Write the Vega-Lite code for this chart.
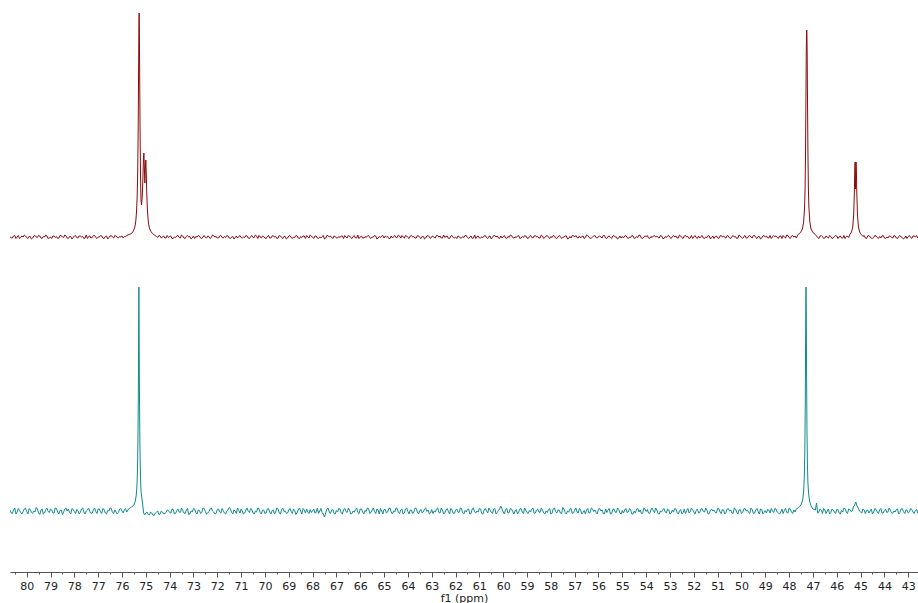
{
  "$schema": "https://vega.github.io/schema/vega-lite/v6.json",
  "padding": {"left": 10, "top": 0, "right": 0, "bottom": 0},
  "spacing": 0,
  "config": {"view": {"stroke": null}, "font": "DejaVu Sans"},
  "datasets": {
    "red": [
      {"x":80.7,"y":0.5},{"x":80.6,"y":-1},{"x":80.5,"y":1.5},{"x":80.4,"y":0},{"x":80.3,"y":-1.5},{"x":80.2,"y":1},{"x":80.1,"y":2},{"x":80.0,"y":-0.5},
      {"x":79.9,"y":0.5},{"x":79.8,"y":-2},{"x":79.7,"y":1},{"x":79.6,"y":0},{"x":79.5,"y":1.5},{"x":79.4,"y":-1},{"x":79.3,"y":0.5},{"x":79.2,"y":2},{"x":79.1,"y":-1.5},{"x":79.0,"y":0},
      {"x":78.9,"y":1},{"x":78.8,"y":-0.5},{"x":78.7,"y":-1.5},{"x":78.6,"y":1.5},{"x":78.5,"y":0},{"x":78.4,"y":2},{"x":78.3,"y":-1},{"x":78.2,"y":0.5},{"x":78.1,"y":-2},{"x":78.0,"y":1},
      {"x":77.9,"y":-0.5},{"x":77.8,"y":1},{"x":77.7,"y":0},{"x":77.6,"y":-1.5},{"x":77.5,"y":2},{"x":77.4,"y":0.5},{"x":77.3,"y":-1},{"x":77.2,"y":1.5},{"x":77.1,"y":-0.5},{"x":77.0,"y":0},
      {"x":76.9,"y":1.5},{"x":76.8,"y":-1},{"x":76.7,"y":0.5},{"x":76.6,"y":-2},{"x":76.5,"y":1},{"x":76.4,"y":0},{"x":76.3,"y":1.5},{"x":76.2,"y":-0.5},{"x":76.1,"y":0.5},{"x":76.0,"y":1},
      {"x":75.9,"y":0.5},{"x":75.8,"y":1.5},
      {"x":75.7,"y":2.5},{"x":75.6,"y":3.5},{"x":75.52,"y":6},{"x":75.46,"y":10},{"x":75.42,"y":16},{"x":75.39,"y":25},{"x":75.36,"y":42},{"x":75.34,"y":65},{"x":75.32,"y":108},{"x":75.30,"y":175},{"x":75.29,"y":210},{"x":75.28,"y":224},{"x":75.27,"y":208},{"x":75.26,"y":170},{"x":75.24,"y":105},{"x":75.22,"y":58},{"x":75.20,"y":36},{"x":75.18,"y":32},{"x":75.15,"y":40},{"x":75.12,"y":60},{"x":75.10,"y":78},{"x":75.08,"y":84},{"x":75.06,"y":68},{"x":75.04,"y":54},{"x":75.02,"y":68},{"x":75.00,"y":77},{"x":74.98,"y":63},{"x":74.96,"y":44},{"x":74.93,"y":26},{"x":74.90,"y":16},{"x":74.86,"y":10},{"x":74.80,"y":6},{"x":74.72,"y":3.5},{"x":74.64,"y":2},
      {"x":74.5,"y":-0.5},{"x":74.4,"y":1},{"x":74.3,"y":0},{"x":74.2,"y":-1},{"x":74.1,"y":1.5},{"x":74.0,"y":0.5},
      {"x":73.9,"y":-1.5},{"x":73.8,"y":0},{"x":73.7,"y":1},{"x":73.6,"y":-0.5},{"x":73.5,"y":2},{"x":73.4,"y":-1},{"x":73.3,"y":0.5},{"x":73.2,"y":0},{"x":73.1,"y":-2},{"x":73.0,"y":1},
      {"x":72.9,"y":0.5},{"x":72.8,"y":1.5},{"x":72.7,"y":-1},{"x":72.6,"y":0},{"x":72.5,"y":-0.5},{"x":72.4,"y":1},{"x":72.3,"y":-1.5},{"x":72.2,"y":2},{"x":72.1,"y":0},{"x":72.0,"y":-1},
      {"x":71.9,"y":1},{"x":71.8,"y":-0.5},{"x":71.7,"y":0.5},{"x":71.6,"y":1.5},{"x":71.5,"y":-1},{"x":71.4,"y":0},{"x":71.3,"y":-2},{"x":71.2,"y":1},{"x":71.1,"y":0.5},{"x":71.0,"y":-0.5},
      {"x":70.9,"y":0},{"x":70.8,"y":1.5},{"x":70.7,"y":-1},{"x":70.6,"y":0.5},{"x":70.5,"y":-0.5},{"x":70.4,"y":2},{"x":70.3,"y":-1.5},{"x":70.2,"y":0},{"x":70.1,"y":1},{"x":70.0,"y":-1},
      {"x":69.9,"y":0.5},{"x":69.8,"y":-1},{"x":69.7,"y":1},{"x":69.6,"y":0},{"x":69.5,"y":-1.5},{"x":69.4,"y":1.5},{"x":69.3,"y":-0.5},{"x":69.2,"y":0.5},{"x":69.1,"y":-2},{"x":69.0,"y":1},
      {"x":68.9,"y":-0.5},{"x":68.8,"y":0},{"x":68.7,"y":1.5},{"x":68.6,"y":-1},{"x":68.5,"y":0.5},{"x":68.4,"y":1},{"x":68.3,"y":-1.5},{"x":68.2,"y":0},{"x":68.1,"y":2},{"x":68.0,"y":-0.5},
      {"x":67.9,"y":1},{"x":67.8,"y":-1},{"x":67.7,"y":0},{"x":67.6,"y":0.5},{"x":67.5,"y":-2},{"x":67.4,"y":1.5},{"x":67.3,"y":0},{"x":67.2,"y":-0.5},{"x":67.1,"y":1},{"x":67.0,"y":-1},
      {"x":66.9,"y":0.5},{"x":66.8,"y":1},{"x":66.7,"y":-1.5},{"x":66.6,"y":0},{"x":66.5,"y":1.5},{"x":66.4,"y":-0.5},{"x":66.3,"y":0.5},{"x":66.2,"y":-1},{"x":66.1,"y":2},{"x":66.0,"y":0},
      {"x":65.9,"y":-1},{"x":65.8,"y":0.5},{"x":65.7,"y":1},{"x":65.6,"y":-0.5},{"x":65.5,"y":0},{"x":65.4,"y":1.5},{"x":65.3,"y":-2},{"x":65.2,"y":0.5},{"x":65.1,"y":1},{"x":65.0,"y":-1},
      {"x":64.9,"y":0},{"x":64.8,"y":-1.5},{"x":64.7,"y":1},{"x":64.6,"y":0.5},{"x":64.5,"y":-0.5},{"x":64.4,"y":2},{"x":64.3,"y":-1},{"x":64.2,"y":0},{"x":64.1,"y":1.5},{"x":64.0,"y":-0.5},
      {"x":63.9,"y":1},{"x":63.8,"y":0},{"x":63.7,"y":-1},{"x":63.6,"y":1.5},{"x":63.5,"y":-0.5},{"x":63.4,"y":0.5},{"x":63.3,"y":-2},{"x":63.2,"y":1},{"x":63.1,"y":0},{"x":63.0,"y":0.5},
      {"x":62.9,"y":-0.5},{"x":62.8,"y":1.5},{"x":62.7,"y":0},{"x":62.6,"y":-1},{"x":62.5,"y":2},{"x":62.4,"y":0.5},{"x":62.3,"y":-1.5},{"x":62.2,"y":1},{"x":62.1,"y":-0.5},{"x":62.0,"y":0},
      {"x":61.9,"y":1},{"x":61.8,"y":-1},{"x":61.7,"y":0.5},{"x":61.6,"y":1.5},{"x":61.5,"y":-0.5},{"x":61.4,"y":0},{"x":61.3,"y":-1.5},{"x":61.2,"y":2},{"x":61.1,"y":0.5},{"x":61.0,"y":-1},
      {"x":60.9,"y":0},{"x":60.8,"y":1},{"x":60.7,"y":-0.5},{"x":60.6,"y":0.5},{"x":60.5,"y":-2},{"x":60.4,"y":1.5},{"x":60.3,"y":0},{"x":60.2,"y":-1},{"x":60.1,"y":1},{"x":60.0,"y":0.5},
      {"x":59.9,"y":-1},{"x":59.8,"y":0.5},{"x":59.7,"y":2},{"x":59.6,"y":-0.5},{"x":59.5,"y":0},{"x":59.4,"y":1},{"x":59.3,"y":-1.5},{"x":59.2,"y":0.5},{"x":59.1,"y":1.5},{"x":59.0,"y":-1},
      {"x":58.9,"y":0.5},{"x":58.8,"y":-0.5},{"x":58.7,"y":1},{"x":58.6,"y":0},{"x":58.5,"y":-1},{"x":58.4,"y":2},{"x":58.3,"y":-1.5},{"x":58.2,"y":1},{"x":58.1,"y":0},{"x":58.0,"y":0.5},
      {"x":57.9,"y":1.5},{"x":57.8,"y":-1},{"x":57.7,"y":0},{"x":57.6,"y":0.5},{"x":57.5,"y":-0.5},{"x":57.4,"y":1},{"x":57.3,"y":-2},{"x":57.2,"y":0.5},{"x":57.1,"y":1.5},{"x":57.0,"y":0},
      {"x":56.9,"y":-0.5},{"x":56.8,"y":1},{"x":56.7,"y":0.5},{"x":56.6,"y":-1.5},{"x":56.5,"y":2},{"x":56.4,"y":0},{"x":56.3,"y":-1},{"x":56.2,"y":1},{"x":56.1,"y":-0.5},{"x":56.0,"y":0.5},
      {"x":55.9,"y":0},{"x":55.8,"y":1.5},{"x":55.7,"y":-1},{"x":55.6,"y":0.5},{"x":55.5,"y":-0.5},{"x":55.4,"y":1},{"x":55.3,"y":0},{"x":55.2,"y":-2},{"x":55.1,"y":1},{"x":55.0,"y":0.5},
      {"x":54.9,"y":1},{"x":54.8,"y":-0.5},{"x":54.7,"y":0},{"x":54.6,"y":1.5},{"x":54.5,"y":-1.5},{"x":54.4,"y":0.5},{"x":54.3,"y":2},{"x":54.2,"y":-1},{"x":54.1,"y":0},{"x":54.0,"y":0.5},
      {"x":53.9,"y":-1},{"x":53.8,"y":0.5},{"x":53.7,"y":1},{"x":53.6,"y":0},{"x":53.5,"y":-0.5},{"x":53.4,"y":1.5},{"x":53.3,"y":-1.5},{"x":53.2,"y":0.5},{"x":53.1,"y":1},{"x":53.0,"y":-0.5},
      {"x":52.9,"y":0.5},{"x":52.8,"y":0},{"x":52.7,"y":-1},{"x":52.6,"y":2},{"x":52.5,"y":-0.5},{"x":52.4,"y":1},{"x":52.3,"y":0},{"x":52.2,"y":-1.5},{"x":52.1,"y":1.5},{"x":52.0,"y":0},
      {"x":51.9,"y":-0.5},{"x":51.8,"y":1},{"x":51.7,"y":0.5},{"x":51.6,"y":-1},{"x":51.5,"y":0},{"x":51.4,"y":1.5},{"x":51.3,"y":-2},{"x":51.2,"y":1},{"x":51.1,"y":0.5},{"x":51.0,"y":-1},
      {"x":50.9,"y":1},{"x":50.8,"y":0},{"x":50.7,"y":-0.5},{"x":50.6,"y":1.5},{"x":50.5,"y":-1},{"x":50.4,"y":0.5},{"x":50.3,"y":0},{"x":50.2,"y":-1.5},{"x":50.1,"y":2},{"x":50.0,"y":-0.5},
      {"x":49.9,"y":0.5},{"x":49.8,"y":-1},{"x":49.7,"y":1},{"x":49.6,"y":0},{"x":49.5,"y":1.5},{"x":49.4,"y":-0.5},{"x":49.3,"y":0.5},{"x":49.2,"y":-2},{"x":49.1,"y":1},{"x":49.0,"y":0},
      {"x":48.9,"y":-1},{"x":48.8,"y":1.5},{"x":48.7,"y":0},{"x":48.6,"y":0.5},{"x":48.5,"y":-0.5},{"x":48.4,"y":1},{"x":48.3,"y":-1.5},{"x":48.2,"y":0},{"x":48.1,"y":2},{"x":48.0,"y":-0.5},
      {"x":47.9,"y":1},{"x":47.8,"y":0},{"x":47.7,"y":-1},
      {"x":47.62,"y":2.5},{"x":47.52,"y":4.5},{"x":47.44,"y":8},{"x":47.39,"y":15},{"x":47.35,"y":30},{"x":47.33,"y":48},{"x":47.31,"y":85},{"x":47.29,"y":150},{"x":47.28,"y":185},{"x":47.27,"y":202},{"x":47.26,"y":207},{"x":47.25,"y":200},{"x":47.24,"y":180},{"x":47.23,"y":145},{"x":47.21,"y":85},{"x":47.19,"y":48},{"x":47.17,"y":30},{"x":47.13,"y":15},{"x":47.08,"y":8},{"x":47.0,"y":4.5},{"x":46.9,"y":2.5},
      {"x":46.8,"y":-0.5},{"x":46.7,"y":1},{"x":46.6,"y":0.5},{"x":46.5,"y":-1},{"x":46.4,"y":0},{"x":46.3,"y":1.5},{"x":46.2,"y":-1.5},{"x":46.1,"y":0.5},{"x":46.0,"y":1},
      {"x":45.9,"y":0},{"x":45.8,"y":-1},{"x":45.7,"y":1.5},{"x":45.6,"y":0.5},{"x":45.5,"y":-0.5},
      {"x":45.45,"y":2.5},{"x":45.38,"y":5},{"x":45.33,"y":10},{"x":45.29,"y":22},{"x":45.26,"y":45},{"x":45.245,"y":65},{"x":45.23,"y":75},{"x":45.22,"y":62},{"x":45.21,"y":48},{"x":45.20,"y":62},{"x":45.19,"y":75},{"x":45.175,"y":65},{"x":45.16,"y":45},{"x":45.13,"y":22},{"x":45.09,"y":10},{"x":45.04,"y":5},{"x":44.97,"y":2.5},
      {"x":44.9,"y":0.5},{"x":44.8,"y":-1},{"x":44.7,"y":1},{"x":44.6,"y":0},{"x":44.5,"y":-1.5},{"x":44.4,"y":1.5},{"x":44.3,"y":-0.5},{"x":44.2,"y":0.5},{"x":44.1,"y":1},{"x":44.0,"y":-1},
      {"x":43.9,"y":0},{"x":43.8,"y":1},{"x":43.7,"y":-0.5},{"x":43.6,"y":1.5},{"x":43.5,"y":-1},{"x":43.4,"y":0.5},{"x":43.3,"y":0},{"x":43.2,"y":-2},{"x":43.1,"y":1},{"x":43.0,"y":0.5},
      {"x":42.9,"y":-0.5},{"x":42.8,"y":1},{"x":42.7,"y":0},{"x":42.6,"y":-1},
      {"x":80.65,"y":-1},{"x":80.55,"y":1},{"x":80.45,"y":-1.5},{"x":80.35,"y":1.5},{"x":80.25,"y":-0.5},{"x":80.15,"y":0},{"x":80.05,"y":1},
      {"x":79.95,"y":-1.5},{"x":79.85,"y":0.5},{"x":79.75,"y":-1},{"x":79.65,"y":1.5},{"x":79.55,"y":-0.5},{"x":79.45,"y":1},{"x":79.35,"y":-1.5},{"x":79.25,"y":0},{"x":79.15,"y":1},{"x":79.05,"y":-1},
      {"x":78.95,"y":-1.5},{"x":78.85,"y":1},{"x":78.75,"y":0.5},{"x":78.65,"y":-1},{"x":78.55,"y":1.5},{"x":78.45,"y":-0.5},{"x":78.35,"y":1},{"x":78.25,"y":-1.5},{"x":78.15,"y":0.5},{"x":78.05,"y":-0.5},
      {"x":77.95,"y":1.5},{"x":77.85,"y":-1},{"x":77.75,"y":1},{"x":77.65,"y":0.5},{"x":77.55,"y":-1},{"x":77.45,"y":-1.5},{"x":77.35,"y":1},{"x":77.25,"y":-0.5},{"x":77.15,"y":1.5},{"x":77.05,"y":-1.5},
      {"x":76.95,"y":0},{"x":76.85,"y":1},{"x":76.75,"y":-1.5},{"x":76.65,"y":1},{"x":76.55,"y":-0.5},{"x":76.45,"y":1.5},{"x":76.35,"y":-1},{"x":76.25,"y":1},{"x":76.15,"y":-1},{"x":76.05,"y":0},
      {"x":75.95,"y":-1},{"x":75.85,"y":0.5},
      {"x":74.55,"y":0.5},{"x":74.45,"y":1.5},{"x":74.35,"y":-1},{"x":74.25,"y":1},{"x":74.15,"y":-1},{"x":74.05,"y":-0.5},
      {"x":73.95,"y":1},{"x":73.85,"y":-1.5},{"x":73.75,"y":-0.5},{"x":73.65,"y":1.5},{"x":73.55,"y":-1},{"x":73.45,"y":1},{"x":73.35,"y":-1.5},{"x":73.25,"y":1.5},{"x":73.15,"y":0.5},{"x":73.05,"y":-1},
      {"x":72.95,"y":-1.5},{"x":72.85,"y":0},{"x":72.75,"y":1},{"x":72.65,"y":-1.5},{"x":72.55,"y":1.5},{"x":72.45,"y":-1},{"x":72.35,"y":0.5},{"x":72.25,"y":-0.5},{"x":72.15,"y":1.5},{"x":72.05,"y":0.5},
      {"x":71.95,"y":-1},{"x":71.85,"y":1.5},{"x":71.75,"y":-1},{"x":71.65,"y":-0.5},{"x":71.55,"y":1},{"x":71.45,"y":-1.5},{"x":71.35,"y":0.5},{"x":71.25,"y":-0.5},{"x":71.15,"y":-1},{"x":71.05,"y":1.5},
      {"x":70.95,"y":-1},{"x":70.85,"y":-0.5},{"x":70.75,"y":1},{"x":70.65,"y":-1.5},{"x":70.55,"y":1.5},{"x":70.45,"y":-0.5},{"x":70.35,"y":1},{"x":70.25,"y":1.5},{"x":70.15,"y":-1},{"x":70.05,"y":0.5},
      {"x":69.95,"y":-1.5},{"x":69.85,"y":1.5},{"x":69.75,"y":-1},{"x":69.65,"y":1.5},{"x":69.55,"y":0.5},{"x":69.45,"y":-1},{"x":69.35,"y":1},{"x":69.25,"y":-1.5},{"x":69.15,"y":0.5},{"x":69.05,"y":-1},
      {"x":68.95,"y":1.5},{"x":68.85,"y":-1.5},{"x":68.75,"y":-0.5},{"x":68.65,"y":1},{"x":68.55,"y":-1.5},{"x":68.45,"y":-0.5},{"x":68.35,"y":1},{"x":68.25,"y":1.5},{"x":68.15,"y":-1},{"x":68.05,"y":1},
      {"x":67.95,"y":-1.5},{"x":67.85,"y":1},{"x":67.75,"y":-1.5},{"x":67.65,"y":-1},{"x":67.55,"y":1.5},{"x":67.45,"y":-1},{"x":67.35,"y":1.5},{"x":67.25,"y":1},{"x":67.15,"y":-1.5},{"x":67.05,"y":0.5},
      {"x":66.95,"y":-1},{"x":66.85,"y":-0.5},{"x":66.75,"y":1},{"x":66.65,"y":1.5},{"x":66.55,"y":-1},{"x":66.45,"y":1},{"x":66.35,"y":-1.5},{"x":66.25,"y":1.5},{"x":66.15,"y":-1},{"x":66.05,"y":-1.5},
      {"x":65.95,"y":1},{"x":65.85,"y":-1},{"x":65.75,"y":-0.5},{"x":65.65,"y":1.5},{"x":65.55,"y":-1.5},{"x":65.45,"y":0},{"x":65.35,"y":1},{"x":65.25,"y":-1},{"x":65.15,"y":-0.5},{"x":65.05,"y":1.5},
      {"x":64.95,"y":1},{"x":64.85,"y":0.5},{"x":64.75,"y":-1.5},{"x":64.65,"y":-1},{"x":64.55,"y":1.5},{"x":64.45,"y":-0.5},{"x":64.35,"y":1},{"x":64.25,"y":1.5},{"x":64.15,"y":-1},{"x":64.05,"y":1},
      {"x":63.95,"y":-1.5},{"x":63.85,"y":1.5},{"x":63.75,"y":0.5},{"x":63.65,"y":-1},{"x":63.55,"y":1},{"x":63.45,"y":-1.5},{"x":63.35,"y":0.5},{"x":63.25,"y":-1},{"x":63.15,"y":1.5},{"x":63.05,"y":-1.5},
      {"x":62.95,"y":1},{"x":62.85,"y":-1},{"x":62.75,"y":1.5},{"x":62.65,"y":1},{"x":62.55,"y":-1},{"x":62.45,"y":-0.5},{"x":62.35,"y":1},{"x":62.25,"y":-1.5},{"x":62.15,"y":1.5},{"x":62.05,"y":-1},
      {"x":61.95,"y":-1.5},{"x":61.85,"y":0.5},{"x":61.75,"y":-1},{"x":61.65,"y":-0.5},{"x":61.55,"y":1.5},{"x":61.45,"y":-1.5},{"x":61.35,"y":1},{"x":61.25,"y":-1},{"x":61.15,"y":-1.5},{"x":61.05,"y":1},
      {"x":60.95,"y":-1},{"x":60.85,"y":-0.5},{"x":60.75,"y":1.5},{"x":60.65,"y":-1.5},{"x":60.55,"y":1},{"x":60.45,"y":-0.5},{"x":60.35,"y":1.5},{"x":60.25,"y":1},{"x":60.15,"y":-1.5},{"x":60.05,"y":-1},
      {"x":59.95,"y":1.5},{"x":59.85,"y":-1.5},{"x":59.75,"y":-0.5},{"x":59.65,"y":1.5},{"x":59.55,"y":-1},{"x":59.45,"y":-0.5},{"x":59.35,"y":1.5},{"x":59.25,"y":-1},{"x":59.15,"y":-0.5},{"x":59.05,"y":1},
      {"x":58.95,"y":-1.5},{"x":58.85,"y":1.5},{"x":58.75,"y":-1},{"x":58.65,"y":1.5},{"x":58.55,"y":0.5},{"x":58.45,"y":-1},{"x":58.35,"y":1},{"x":58.25,"y":-0.5},{"x":58.15,"y":1.5},{"x":58.05,"y":-1.5},
      {"x":57.95,"y":-0.5},{"x":57.85,"y":1},{"x":57.75,"y":-1.5},{"x":57.65,"y":1.5},{"x":57.55,"y":-1.5},{"x":57.45,"y":0},{"x":57.35,"y":1},{"x":57.25,"y":-1.5},{"x":57.15,"y":-1},{"x":57.05,"y":1.5},
      {"x":56.95,"y":1.5},{"x":56.85,"y":-1},{"x":56.75,"y":-1},{"x":56.65,"y":1},{"x":56.55,"y":-0.5},{"x":56.45,"y":1.5},{"x":56.35,"y":-1.5},{"x":56.25,"y":0},{"x":56.15,"y":1.5},{"x":56.05,"y":-1},
      {"x":55.95,"y":1},{"x":55.85,"y":-1},{"x":55.75,"y":1.5},{"x":55.65,"y":-1.5},{"x":55.55,"y":1},{"x":55.45,"y":-1.5},{"x":55.35,"y":1.5},{"x":55.25,"y":0},{"x":55.15,"y":-1},{"x":55.05,"y":-1},
      {"x":54.95,"y":-1},{"x":54.85,"y":1.5},{"x":54.75,"y":-1.5},{"x":54.65,"y":-0.5},{"x":54.55,"y":1},{"x":54.45,"y":-1},{"x":54.35,"y":-0.5},{"x":54.25,"y":1.5},{"x":54.15,"y":-1.5},{"x":54.05,"y":1},
      {"x":53.95,"y":1.5},{"x":53.85,"y":-1.5},{"x":53.75,"y":-0.5},{"x":53.65,"y":1.5},{"x":53.55,"y":1},{"x":53.45,"y":-1},{"x":53.35,"y":1},{"x":53.25,"y":-1.5},{"x":53.15,"y":-0.5},{"x":53.05,"y":1.5},
      {"x":52.95,"y":-1.5},{"x":52.85,"y":1.5},{"x":52.75,"y":1},{"x":52.65,"y":-1},{"x":52.55,"y":1},{"x":52.45,"y":-1.5},{"x":52.35,"y":1.5},{"x":52.25,"y":0.5},{"x":52.15,"y":-1},{"x":52.05,"y":-1.5},
      {"x":51.95,"y":1.5},{"x":51.85,"y":-1.5},{"x":51.75,"y":-1},{"x":51.65,"y":1.5},{"x":51.55,"y":-1.5},{"x":51.45,"y":-0.5},{"x":51.35,"y":1},{"x":51.25,"y":-0.5},{"x":51.15,"y":-1.5},{"x":51.05,"y":1},
      {"x":50.95,"y":-1.5},{"x":50.85,"y":1.5},{"x":50.75,"y":1},{"x":50.65,"y":-1},{"x":50.55,"y":1},{"x":50.45,"y":-1.5},{"x":50.35,"y":1.5},{"x":50.25,"y":0.5},{"x":50.15,"y":-1},{"x":50.05,"y":1},
      {"x":49.95,"y":-1.5},{"x":49.85,"y":1.5},{"x":49.75,"y":-1},{"x":49.65,"y":1.5},{"x":49.55,"y":-1},{"x":49.45,"y":1.5},{"x":49.35,"y":-1.5},{"x":49.25,"y":0.5},{"x":49.15,"y":-1},{"x":49.05,"y":1.5},
      {"x":48.95,"y":1},{"x":48.85,"y":-1},{"x":48.75,"y":-1.5},{"x":48.65,"y":1.5},{"x":48.55,"y":1},{"x":48.45,"y":-1.5},{"x":48.35,"y":1},{"x":48.25,"y":1.5},{"x":48.15,"y":-1},{"x":48.05,"y":1.5},
      {"x":47.95,"y":-1.5},{"x":47.85,"y":1.5},{"x":47.75,"y":1},
      {"x":46.75,"y":-1.5},{"x":46.65,"y":1.5},{"x":46.55,"y":-1.5},{"x":46.45,"y":1},{"x":46.35,"y":-1},{"x":46.25,"y":0.5},{"x":46.15,"y":-1},{"x":46.05,"y":1.5},
      {"x":45.95,"y":-1.5},{"x":45.85,"y":1},{"x":45.75,"y":-1},{"x":45.65,"y":-1.5},{"x":45.55,"y":1},
      {"x":44.85,"y":1.5},{"x":44.75,"y":-1.5},{"x":44.65,"y":1.5},{"x":44.55,"y":-1},{"x":44.45,"y":-0.5},{"x":44.35,"y":1},{"x":44.25,"y":-1.5},{"x":44.15,"y":-1},{"x":44.05,"y":1.5},
      {"x":43.95,"y":-1.5},{"x":43.85,"y":-1},{"x":43.75,"y":1},{"x":43.65,"y":-1},{"x":43.55,"y":1},{"x":43.45,"y":-1.5},{"x":43.35,"y":1.5},{"x":43.25,"y":-0.5},{"x":43.15,"y":-1},{"x":43.05,"y":-1.5},
      {"x":42.95,"y":1.5},{"x":42.85,"y":-1.5},{"x":42.75,"y":1},{"x":42.65,"y":1.5}
    ],
    "teal": [
      {"x":80.7,"y":1},{"x":80.6,"y":-2.5},{"x":80.5,"y":3},{"x":80.4,"y":-1},{"x":80.3,"y":0.5},{"x":80.2,"y":-3},{"x":80.1,"y":2},{"x":80.0,"y":-0.5},
      {"x":79.9,"y":2.5},{"x":79.8,"y":-1.5},{"x":79.7,"y":0},{"x":79.6,"y":3.5},{"x":79.5,"y":-2},{"x":79.4,"y":1},{"x":79.3,"y":-3},{"x":79.2,"y":1.5},{"x":79.1,"y":-0.5},{"x":79.0,"y":2},
      {"x":78.9,"y":-2},{"x":78.8,"y":3},{"x":78.7,"y":-1},{"x":78.6,"y":0.5},{"x":78.5,"y":-3.5},{"x":78.4,"y":2},{"x":78.3,"y":0},{"x":78.2,"y":-1.5},{"x":78.1,"y":2.5},{"x":78.0,"y":-0.5},
      {"x":77.9,"y":1.5},{"x":77.8,"y":-3},{"x":77.7,"y":2},{"x":77.6,"y":-1},{"x":77.5,"y":0},{"x":77.4,"y":3},{"x":77.3,"y":-2.5},{"x":77.2,"y":1},{"x":77.1,"y":-0.5},{"x":77.0,"y":2},
      {"x":76.9,"y":-1},{"x":76.8,"y":2.5},{"x":76.7,"y":-2},{"x":76.6,"y":0.5},{"x":76.5,"y":3},{"x":76.4,"y":-1.5},{"x":76.3,"y":1},{"x":76.2,"y":-3},{"x":76.1,"y":2},{"x":76.0,"y":0},
      {"x":75.9,"y":1.5},{"x":75.8,"y":-1},
      {"x":75.72,"y":2},{"x":75.6,"y":4},{"x":75.5,"y":6},{"x":75.44,"y":10},{"x":75.40,"y":16},{"x":75.37,"y":26},{"x":75.35,"y":40},{"x":75.33,"y":70},{"x":75.31,"y":125},{"x":75.30,"y":180},{"x":75.29,"y":224},{"x":75.28,"y":185},{"x":75.27,"y":130},{"x":75.25,"y":72},{"x":75.23,"y":42},{"x":75.21,"y":24},{"x":75.19,"y":17},{"x":75.17,"y":14},{"x":75.15,"y":10},{"x":75.12,"y":4},{"x":75.09,"y":-2},{"x":75.05,"y":-4},{"x":75.0,"y":-2},
      {"x":74.9,"y":-3.5},{"x":74.8,"y":-1},{"x":74.7,"y":-4},{"x":74.6,"y":-2},{"x":74.5,"y":0},{"x":74.4,"y":-3},{"x":74.3,"y":-1},{"x":74.2,"y":-2.5},{"x":74.1,"y":1},{"x":74.0,"y":-1.5},
      {"x":73.9,"y":2},{"x":73.8,"y":-3},{"x":73.7,"y":0.5},{"x":73.6,"y":-1},{"x":73.5,"y":3},{"x":73.4,"y":-2},{"x":73.3,"y":1},{"x":73.2,"y":-3.5},{"x":73.1,"y":0},{"x":73.0,"y":2.5},
      {"x":72.9,"y":-1.5},{"x":72.8,"y":1},{"x":72.7,"y":-2.5},{"x":72.6,"y":3},{"x":72.5,"y":-0.5},{"x":72.4,"y":-2},{"x":72.3,"y":2},{"x":72.2,"y":0},{"x":72.1,"y":-3},{"x":72.0,"y":1.5},
      {"x":71.9,"y":-1},{"x":71.8,"y":2.5},{"x":71.7,"y":-2},{"x":71.6,"y":0},{"x":71.5,"y":3.5},{"x":71.4,"y":-1.5},{"x":71.3,"y":1},{"x":71.2,"y":-2.5},{"x":71.1,"y":0.5},{"x":71.0,"y":2},
      {"x":70.9,"y":-3},{"x":70.8,"y":1},{"x":70.7,"y":-0.5},{"x":70.6,"y":2.5},{"x":70.5,"y":-2},{"x":70.4,"y":0},{"x":70.3,"y":3},{"x":70.2,"y":-1.5},{"x":70.1,"y":1},{"x":70.0,"y":-2.5},
      {"x":69.9,"y":2},{"x":69.8,"y":-1},{"x":69.7,"y":0.5},{"x":69.6,"y":-3},{"x":69.5,"y":3},{"x":69.4,"y":-2},{"x":69.3,"y":1.5},{"x":69.2,"y":-0.5},{"x":69.1,"y":-2.5},{"x":69.0,"y":1},
      {"x":68.9,"y":-0.5},{"x":68.8,"y":2},{"x":68.7,"y":-3.5},{"x":68.6,"y":1},{"x":68.5,"y":0},{"x":68.4,"y":2.5},{"x":68.3,"y":-2},{"x":68.2,"y":-1},{"x":68.1,"y":1.5},{"x":68.0,"y":0.5},
      {"x":67.9,"y":-2},{"x":67.8,"y":3},{"x":67.7,"y":0},{"x":67.6,"y":-1.5},{"x":67.5,"y":-6},{"x":67.4,"y":2},{"x":67.3,"y":-1},{"x":67.2,"y":1},{"x":67.1,"y":-2.5},{"x":67.0,"y":0.5},
      {"x":66.9,"y":2.5},{"x":66.8,"y":-2},{"x":66.7,"y":1},{"x":66.6,"y":-0.5},{"x":66.5,"y":3},{"x":66.4,"y":-3},{"x":66.3,"y":0},{"x":66.2,"y":1.5},{"x":66.1,"y":-1.5},{"x":66.0,"y":2},
      {"x":65.9,"y":-1},{"x":65.8,"y":0.5},{"x":65.7,"y":3},{"x":65.6,"y":-2.5},{"x":65.5,"y":1},{"x":65.4,"y":-0.5},{"x":65.3,"y":2},{"x":65.2,"y":-3},{"x":65.1,"y":0},{"x":65.0,"y":1.5},
      {"x":64.9,"y":-2},{"x":64.8,"y":2.5},{"x":64.7,"y":-1},{"x":64.6,"y":0},{"x":64.5,"y":3},{"x":64.4,"y":-1.5},{"x":64.3,"y":1},{"x":64.2,"y":-3},{"x":64.1,"y":2},{"x":64.0,"y":-0.5},
      {"x":63.9,"y":1},{"x":63.8,"y":-2.5},{"x":63.7,"y":3},{"x":63.6,"y":-1},{"x":63.5,"y":0.5},{"x":63.4,"y":-2},{"x":63.3,"y":2},{"x":63.2,"y":-0.5},{"x":63.1,"y":-3},{"x":63.0,"y":1.5},
      {"x":62.9,"y":0},{"x":62.8,"y":2},{"x":62.7,"y":-1.5},{"x":62.6,"y":3},{"x":62.5,"y":-3},{"x":62.4,"y":1},{"x":62.3,"y":-0.5},{"x":62.2,"y":2.5},{"x":62.1,"y":-2},{"x":62.0,"y":0.5},
      {"x":61.9,"y":-1},{"x":61.8,"y":3},{"x":61.7,"y":-2},{"x":61.6,"y":0.5},{"x":61.5,"y":1.5},{"x":61.4,"y":-3},{"x":61.3,"y":2},{"x":61.2,"y":-1},{"x":61.1,"y":0},{"x":61.0,"y":2.5},
      {"x":60.9,"y":-2.5},{"x":60.8,"y":1},{"x":60.7,"y":0},{"x":60.6,"y":3},{"x":60.5,"y":-1.5},{"x":60.4,"y":2},{"x":60.3,"y":-3},{"x":60.2,"y":0.5},{"x":60.1,"y":5},{"x":60.0,"y":-1},
      {"x":59.9,"y":1.5},{"x":59.8,"y":-2},{"x":59.7,"y":2.5},{"x":59.6,"y":-0.5},{"x":59.5,"y":0},{"x":59.4,"y":-3},{"x":59.3,"y":2},{"x":59.2,"y":-1},{"x":59.1,"y":3},{"x":59.0,"y":-1.5},
      {"x":58.9,"y":0.5},{"x":58.8,"y":2},{"x":58.7,"y":-2.5},{"x":58.6,"y":1},{"x":58.5,"y":-1},{"x":58.4,"y":3},{"x":58.3,"y":-2},{"x":58.2,"y":0},{"x":58.1,"y":1.5},{"x":58.0,"y":-3},
      {"x":57.9,"y":2},{"x":57.8,"y":-0.5},{"x":57.7,"y":1},{"x":57.6,"y":-2},{"x":57.5,"y":3.5},{"x":57.4,"y":-1.5},{"x":57.3,"y":0},{"x":57.2,"y":2},{"x":57.1,"y":-2.5},{"x":57.0,"y":1},
      {"x":56.9,"y":-1},{"x":56.8,"y":2.5},{"x":56.7,"y":-3},{"x":56.6,"y":0.5},{"x":56.5,"y":1},{"x":56.4,"y":-2},{"x":56.3,"y":3},{"x":56.2,"y":-0.5},{"x":56.1,"y":-1.5},{"x":56.0,"y":2},
      {"x":55.9,"y":0},{"x":55.8,"y":-2.5},{"x":55.7,"y":2},{"x":55.6,"y":1},{"x":55.5,"y":-3},{"x":55.4,"y":1.5},{"x":55.3,"y":-1},{"x":55.2,"y":3},{"x":55.1,"y":-2},{"x":55.0,"y":0.5},
      {"x":54.9,"y":1},{"x":54.8,"y":-1.5},{"x":54.7,"y":2.5},{"x":54.6,"y":-3},{"x":54.5,"y":0},{"x":54.4,"y":2},{"x":54.3,"y":-1},{"x":54.2,"y":-2.5},{"x":54.1,"y":3},{"x":54.0,"y":-0.5},
      {"x":53.9,"y":-2},{"x":53.8,"y":1},{"x":53.7,"y":0.5},{"x":53.6,"y":3},{"x":53.5,"y":-2.5},{"x":53.4,"y":0},{"x":53.3,"y":1.5},{"x":53.2,"y":-1},{"x":53.1,"y":2},{"x":53.0,"y":-3},
      {"x":52.9,"y":1},{"x":52.8,"y":2.5},{"x":52.7,"y":-1.5},{"x":52.6,"y":0},{"x":52.5,"y":-3},{"x":52.4,"y":2},{"x":52.3,"y":0.5},{"x":52.2,"y":-2},{"x":52.1,"y":3},{"x":52.0,"y":-1},
      {"x":51.9,"y":0.5},{"x":51.8,"y":-2},{"x":51.7,"y":2},{"x":51.6,"y":-0.5},{"x":51.5,"y":3},{"x":51.4,"y":-3},{"x":51.3,"y":1},{"x":51.2,"y":0},{"x":51.1,"y":-1.5},{"x":51.0,"y":2.5},
      {"x":50.9,"y":-1},{"x":50.8,"y":1.5},{"x":50.7,"y":-3},{"x":50.6,"y":2},{"x":50.5,"y":0},{"x":50.4,"y":-2},{"x":50.3,"y":3},{"x":50.2,"y":-1},{"x":50.1,"y":1},{"x":50.0,"y":-2.5},
      {"x":49.9,"y":2},{"x":49.8,"y":0},{"x":49.7,"y":-1.5},{"x":49.6,"y":3},{"x":49.5,"y":-2.5},{"x":49.4,"y":1},{"x":49.3,"y":-0.5},{"x":49.2,"y":2},{"x":49.1,"y":-3},{"x":49.0,"y":0.5},
      {"x":48.9,"y":1.5},{"x":48.8,"y":-2},{"x":48.7,"y":0},{"x":48.6,"y":2.5},{"x":48.5,"y":-1},{"x":48.4,"y":-3},{"x":48.3,"y":2},{"x":48.2,"y":0.5},{"x":48.1,"y":-1.5},{"x":48.0,"y":3},
      {"x":47.9,"y":-1},{"x":47.8,"y":1},{"x":47.7,"y":2},
      {"x":47.62,"y":3},{"x":47.5,"y":6},{"x":47.43,"y":11},{"x":47.39,"y":19},{"x":47.36,"y":35},{"x":47.34,"y":60},{"x":47.32,"y":110},{"x":47.31,"y":160},{"x":47.30,"y":205},{"x":47.29,"y":224},{"x":47.28,"y":200},{"x":47.27,"y":150},{"x":47.25,"y":80},{"x":47.23,"y":45},{"x":47.21,"y":28},{"x":47.18,"y":17},{"x":47.14,"y":10},{"x":47.08,"y":5},{"x":47.0,"y":2},
      {"x":46.9,"y":1},{"x":46.85,"y":8},{"x":46.8,"y":-2},{"x":46.7,"y":2},{"x":46.6,"y":-2.5},{"x":46.5,"y":1},{"x":46.4,"y":0},{"x":46.3,"y":-3},{"x":46.2,"y":2},{"x":46.1,"y":-1},{"x":46.0,"y":1.5},
      {"x":45.9,"y":-2},{"x":45.8,"y":0.5},{"x":45.7,"y":3},{"x":45.6,"y":-1},{"x":45.5,"y":2},{"x":45.4,"y":-0.5},{"x":45.3,"y":4},{"x":45.2,"y":9},{"x":45.1,"y":3},{"x":45.0,"y":-1},
      {"x":44.9,"y":2},{"x":44.8,"y":-2.5},{"x":44.7,"y":1},{"x":44.6,"y":0},{"x":44.5,"y":-3},{"x":44.4,"y":2.5},{"x":44.3,"y":-1},{"x":44.2,"y":1},{"x":44.1,"y":-2},{"x":44.0,"y":0.5},
      {"x":43.9,"y":-1.5},{"x":43.8,"y":3},{"x":43.7,"y":-2},{"x":43.6,"y":0},{"x":43.5,"y":1.5},{"x":43.4,"y":-3},{"x":43.3,"y":2},{"x":43.2,"y":-0.5},{"x":43.1,"y":1},{"x":43.0,"y":-2},
      {"x":42.9,"y":2.5},{"x":42.8,"y":-1},{"x":42.7,"y":0.5},{"x":42.6,"y":-2},
      {"x":80.65,"y":-2},{"x":80.55,"y":1},{"x":80.45,"y":-3},{"x":80.35,"y":2.5},{"x":80.25,"y":-1.5},{"x":80.15,"y":-0.5},{"x":80.05,"y":3},
      {"x":79.95,"y":-3},{"x":79.85,"y":1.5},{"x":79.75,"y":-2.5},{"x":79.65,"y":-1},{"x":79.55,"y":2},{"x":79.45,"y":-3.5},{"x":79.35,"y":2},{"x":79.25,"y":-2},{"x":79.15,"y":3},{"x":79.05,"y":-1.5},
      {"x":78.95,"y":1},{"x":78.85,"y":-2},{"x":78.75,"y":2.5},{"x":78.65,"y":-3},{"x":78.55,"y":1},{"x":78.45,"y":-1},{"x":78.35,"y":3},{"x":78.25,"y":2},{"x":78.15,"y":-3},{"x":78.05,"y":1.5},
      {"x":77.95,"y":-2.5},{"x":77.85,"y":0.5},{"x":77.75,"y":-1.5},{"x":77.65,"y":3},{"x":77.55,"y":-3},{"x":77.45,"y":1},{"x":77.35,"y":-0.5},{"x":77.25,"y":-2},{"x":77.15,"y":3},{"x":77.05,"y":-2.5},
      {"x":76.95,"y":2},{"x":76.85,"y":-2.5},{"x":76.75,"y":1.5},{"x":76.65,"y":-3},{"x":76.55,"y":0},{"x":76.45,"y":2.5},{"x":76.35,"y":-2.5},{"x":76.25,"y":-1},{"x":76.15,"y":-1.5},{"x":76.05,"y":2.5},
      {"x":75.95,"y":-2},{"x":75.85,"y":2.5},
      {"x":74.95,"y":-1},{"x":74.85,"y":-4},{"x":74.75,"y":-2},{"x":74.65,"y":-4.5},{"x":74.55,"y":-1},{"x":74.45,"y":-3.5},{"x":74.35,"y":0},{"x":74.25,"y":-3},{"x":74.15,"y":-1.5},{"x":74.05,"y":0.5},
      {"x":73.95,"y":-2},{"x":73.85,"y":1.5},{"x":73.75,"y":-2.5},{"x":73.65,"y":2},{"x":73.55,"y":-1.5},{"x":73.45,"y":0.5},{"x":73.35,"y":-2.5},{"x":73.25,"y":2.5},{"x":73.15,"y":-3},{"x":73.05,"y":-1},
      {"x":72.95,"y":2},{"x":72.85,"y":-3},{"x":72.75,"y":0.5},{"x":72.65,"y":-1.5},{"x":72.55,"y":2.5},{"x":72.45,"y":-3},{"x":72.35,"y":-0.5},{"x":72.25,"y":3},{"x":72.15,"y":-1},{"x":72.05,"y":-2.5},
      {"x":71.95,"y":2},{"x":71.85,"y":-2},{"x":71.75,"y":0.5},{"x":71.65,"y":-3},{"x":71.55,"y":1},{"x":71.45,"y":2.5},{"x":71.35,"y":-3},{"x":71.25,"y":0},{"x":71.15,"y":3},{"x":71.05,"y":-2},
      {"x":70.95,"y":0},{"x":70.85,"y":-2},{"x":70.75,"y":3},{"x":70.65,"y":-1.5},{"x":70.55,"y":1.5},{"x":70.45,"y":-3},{"x":70.35,"y":-1},{"x":70.25,"y":2.5},{"x":70.15,"y":-3},{"x":70.05,"y":1},
      {"x":69.95,"y":-2},{"x":69.85,"y":2.5},{"x":69.75,"y":-3},{"x":69.65,"y":1},{"x":69.55,"y":-1},{"x":69.45,"y":2},{"x":69.35,"y":-3},{"x":69.25,"y":3},{"x":69.15,"y":0},{"x":69.05,"y":-2},
      {"x":68.95,"y":2.5},{"x":68.85,"y":-2.5},{"x":68.75,"y":0.5},{"x":68.65,"y":-1.5},{"x":68.55,"y":3},{"x":68.45,"y":-3},{"x":68.35,"y":1},{"x":68.25,"y":2},{"x":68.15,"y":-2.5},{"x":68.05,"y":-1.5},
      {"x":67.95,"y":2},{"x":67.85,"y":-1.5},{"x":67.75,"y":-2.5},{"x":67.65,"y":2.5},{"x":67.55,"y":-3},{"x":67.45,"y":-2},{"x":67.35,"y":3},{"x":67.25,"y":-2.5},{"x":67.15,"y":1.5},{"x":67.05,"y":-3},
      {"x":66.95,"y":-1},{"x":66.85,"y":2},{"x":66.75,"y":-3},{"x":66.65,"y":2.5},{"x":66.55,"y":-1.5},{"x":66.45,"y":1},{"x":66.35,"y":-2.5},{"x":66.25,"y":-1},{"x":66.15,"y":3},{"x":66.05,"y":-2.5},
      {"x":65.95,"y":2},{"x":65.85,"y":-3},{"x":65.75,"y":-0.5},{"x":65.65,"y":2.5},{"x":65.55,"y":-1.5},{"x":65.45,"y":3},{"x":65.35,"y":-2.5},{"x":65.25,"y":1},{"x":65.15,"y":2.5},{"x":65.05,"y":-3},
      {"x":64.95,"y":1.5},{"x":64.85,"y":-1},{"x":64.75,"y":3},{"x":64.65,"y":-3},{"x":64.55,"y":-1},{"x":64.45,"y":2.5},{"x":64.35,"y":-2.5},{"x":64.25,"y":2},{"x":64.15,"y":-2},{"x":64.05,"y":3},
      {"x":63.95,"y":-3},{"x":63.85,"y":1},{"x":63.75,"y":-1},{"x":63.65,"y":2.5},{"x":63.55,"y":-3},{"x":63.45,"y":1.5},{"x":63.35,"y":-1},{"x":63.25,"y":3},{"x":63.15,"y":1},{"x":63.05,"y":-2},
      {"x":62.95,"y":-2.5},{"x":62.85,"y":-1},{"x":62.75,"y":3},{"x":62.65,"y":-2},{"x":62.55,"y":1},{"x":62.45,"y":-1.5},{"x":62.35,"y":2.5},{"x":62.25,"y":-3},{"x":62.15,"y":1.5},{"x":62.05,"y":-2.5},
      {"x":61.95,"y":2},{"x":61.85,"y":-1.5},{"x":61.75,"y":2.5},{"x":61.65,"y":-3},{"x":61.55,"y":-1},{"x":61.45,"y":2},{"x":61.35,"y":-2.5},{"x":61.25,"y":3},{"x":61.15,"y":-2},{"x":61.05,"y":-1},
      {"x":60.95,"y":2},{"x":60.85,"y":-3},{"x":60.75,"y":2.5},{"x":60.65,"y":-2},{"x":60.55,"y":1},{"x":60.45,"y":-2.5},{"x":60.35,"y":2.5},{"x":60.25,"y":-1.5},{"x":60.15,"y":2},{"x":60.05,"y":2},
      {"x":59.95,"y":-3},{"x":59.85,"y":2.5},{"x":59.75,"y":-1.5},{"x":59.65,"y":2},{"x":59.55,"y":-3},{"x":59.45,"y":1.5},{"x":59.35,"y":-1},{"x":59.25,"y":2.5},{"x":59.15,"y":-2.5},{"x":59.05,"y":1},
      {"x":58.95,"y":-2.5},{"x":58.85,"y":-1},{"x":58.75,"y":3},{"x":58.65,"y":-2},{"x":58.55,"y":2},{"x":58.45,"y":-1.5},{"x":58.35,"y":1},{"x":58.25,"y":-3},{"x":58.15,"y":-1.5},{"x":58.05,"y":2.5},
      {"x":57.95,"y":-2.5},{"x":57.85,"y":3},{"x":57.75,"y":-2},{"x":57.65,"y":1},{"x":57.55,"y":-2.5},{"x":57.45,"y":2},{"x":57.35,"y":-3},{"x":57.25,"y":-1},{"x":57.15,"y":2.5},{"x":57.05,"y":-2},
      {"x":56.95,"y":3},{"x":56.85,"y":-2},{"x":56.75,"y":1},{"x":56.65,"y":-1.5},{"x":56.55,"y":-3},{"x":56.45,"y":2.5},{"x":56.35,"y":-1.5},{"x":56.25,"y":2},{"x":56.15,"y":1},{"x":56.05,"y":-3},
      {"x":55.95,"y":2.5},{"x":55.85,"y":1},{"x":55.75,"y":-3},{"x":55.65,"y":-1.5},{"x":55.55,"y":2.5},{"x":55.45,"y":-2.5},{"x":55.35,"y":2},{"x":55.25,"y":-1.5},{"x":55.15,"y":1.5},{"x":55.05,"y":-3},
      {"x":54.95,"y":-2},{"x":54.85,"y":2.5},{"x":54.75,"y":-1},{"x":54.65,"y":1},{"x":54.55,"y":-3},{"x":54.45,"y":-2},{"x":54.35,"y":2.5},{"x":54.25,"y":1},{"x":54.15,"y":-2.5},{"x":54.05,"y":2},
      {"x":53.95,"y":1.5},{"x":53.85,"y":-2.5},{"x":53.75,"y":3},{"x":53.65,"y":-1.5},{"x":53.55,"y":1},{"x":53.45,"y":-3},{"x":53.35,"y":-1},{"x":53.25,"y":2.5},{"x":53.15,"y":-2},{"x":53.05,"y":1},
      {"x":52.95,"y":-2},{"x":52.85,"y":-1},{"x":52.75,"y":2},{"x":52.65,"y":-3},{"x":52.55,"y":1.5},{"x":52.45,"y":-1.5},{"x":52.35,"y":-2.5},{"x":52.25,"y":2.5},{"x":52.15,"y":-1},{"x":52.05,"y":1.5},
      {"x":51.95,"y":-3},{"x":51.85,"y":2},{"x":51.75,"y":-1.5},{"x":51.65,"y":2.5},{"x":51.55,"y":-1},{"x":51.45,"y":1},{"x":51.35,"y":-2.5},{"x":51.25,"y":2},{"x":51.15,"y":1},{"x":51.05,"y":-2},
      {"x":50.95,"y":2.5},{"x":50.85,"y":-2.5},{"x":50.75,"y":1},{"x":50.65,"y":-1.5},{"x":50.55,"y":2.5},{"x":50.45,"y":1},{"x":50.35,"y":-2.5},{"x":50.25,"y":2},{"x":50.15,"y":-3},{"x":50.05,"y":1.5},
      {"x":49.95,"y":-1.5},{"x":49.85,"y":2.5},{"x":49.75,"y":1},{"x":49.65,"y":-2.5},{"x":49.55,"y":1.5},{"x":49.45,"y":-2},{"x":49.35,"y":2.5},{"x":49.25,"y":-3},{"x":49.15,"y":1.5},{"x":49.05,"y":-1.5},
      {"x":48.95,"y":-2},{"x":48.85,"y":1},{"x":48.75,"y":2.5},{"x":48.65,"y":-1.5},{"x":48.55,"y":2},{"x":48.45,"y":-2},{"x":48.35,"y":-1},{"x":48.25,"y":-2.5},{"x":48.15,"y":2.5},{"x":48.05,"y":-2},
      {"x":47.95,"y":2},{"x":47.85,"y":-2.5},{"x":47.75,"y":-1},
      {"x":46.75,"y":-1},{"x":46.65,"y":1},{"x":46.55,"y":2.5},{"x":46.45,"y":-2.5},{"x":46.35,"y":2},{"x":46.25,"y":-1.5},{"x":46.15,"y":1},{"x":46.05,"y":-2.5},
      {"x":45.95,"y":1.5},{"x":45.85,"y":-3},{"x":45.75,"y":-1},{"x":45.65,"y":2.5},{"x":45.55,"y":-2.5},{"x":45.45,"y":1.5},{"x":45.35,"y":0},{"x":45.25,"y":6},{"x":45.15,"y":5},{"x":45.05,"y":0},
      {"x":44.95,"y":-2},{"x":44.85,"y":1},{"x":44.75,"y":0.5},{"x":44.65,"y":-2},{"x":44.55,"y":2},{"x":44.45,"y":-1},{"x":44.35,"y":1.5},{"x":44.25,"y":-2.5},{"x":44.15,"y":2.5},{"x":44.05,"y":-2},
      {"x":43.95,"y":2},{"x":43.85,"y":-1},{"x":43.75,"y":1},{"x":43.65,"y":-2.5},{"x":43.55,"y":-1},{"x":43.45,"y":2},{"x":43.35,"y":-1.5},{"x":43.25,"y":2.5},{"x":43.15,"y":-2.5},{"x":43.05,"y":1},
      {"x":42.95,"y":-1},{"x":42.85,"y":1.5},{"x":42.75,"y":-2.5},{"x":42.65,"y":1.5}
    ]
  },
  "vconcat": [
    {
      "width": 908,
      "height": 255,
      "data": {"name": "red"},
      "mark": {"type": "line", "color": "#8b0a0a", "strokeWidth": 1, "clip": true},
      "encoding": {
        "x": {"field": "x", "type": "quantitative", "scale": {"domain": [80.7, 42.59], "nice": false, "zero": false}, "axis": null},
        "y": {"field": "y", "type": "quantitative", "scale": {"domain": [-18, 237], "nice": false, "zero": false}, "axis": null}
      }
    },
    {
      "width": 908,
      "height": 317,
      "data": {"name": "teal"},
      "layer": [
        {
          "mark": {"type": "line", "color": "#0f8c8c", "strokeWidth": 1, "clip": true},
          "encoding": {
            "x": {"field": "x", "type": "quantitative", "scale": {"domain": [80.7, 42.59], "nice": false, "zero": false},
              "axis": {"orient": "bottom", "values": [43,44,45,46,47,48,49,50,51,52,53,54,55,56,57,58,59,60,61,62,63,64,65,66,67,68,69,70,71,72,73,74,75,76,77,78,79,80],
                "format": "d", "grid": false, "tickSize": 5, "tickColor": "#555", "domainColor": "#555", "labelColor": "#222", "labelFontSize": 11, "labelPadding": 3,
                "title": "f1 (ppm)", "titleFontSize": 11, "titleFontWeight": "normal", "titleColor": "#222", "titlePadding": 1}},
            "y": {"field": "y", "type": "quantitative", "scale": {"domain": [-61, 256], "nice": false, "zero": false}, "axis": null}
          }
        },
        {
          "mark": {"type": "line", "opacity": 0},
          "encoding": {
            "x": {"field": "x", "type": "quantitative",
              "axis": {"orient": "bottom", "values": [43.5,44.5,45.5,46.5,47.5,48.5,49.5,50.5,51.5,52.5,53.5,54.5,55.5,56.5,57.5,58.5,59.5,60.5,61.5,62.5,63.5,64.5,65.5,66.5,67.5,68.5,69.5,70.5,71.5,72.5,73.5,74.5,75.5,76.5,77.5,78.5,79.5,80.5],
                "labels": false, "domain": false, "grid": false, "tickSize": 2, "tickColor": "#555", "title": null}},
            "y": {"field": "y", "type": "quantitative", "axis": null}
          }
        }
      ],
      "resolve": {"axis": {"x": "independent"}}
    }
  ]
}
